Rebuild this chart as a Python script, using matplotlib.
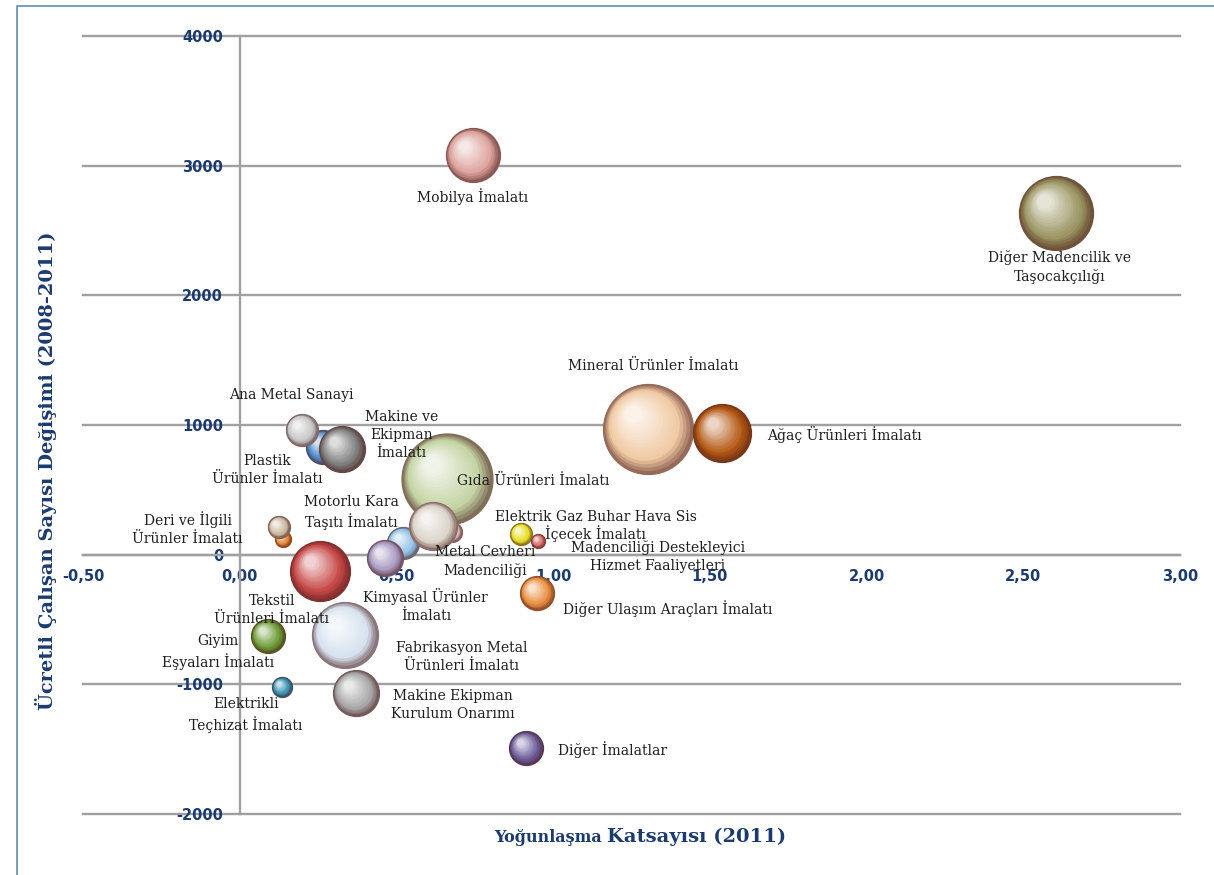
import numpy as np
import matplotlib
matplotlib.use('Agg')
import matplotlib.pyplot as plt
from matplotlib.lines import Line2D
from matplotlib.transforms import offset_copy
from matplotlib.colors import to_rgb

# sektorler (cizim sirasi)
sektorler = [
    'Gıda Ürünleri İmalatı', 'Mineral Ürünler İmalatı', 'Ağaç Ürünleri İmalatı',
    'Mobilya İmalatı', 'Diğer Madencilik ve\nTaşocakçılığı', 'Plastik\nÜrünler İmalatı',
    'Makine ve\nEkipman\nİmalatı', 'Ana Metal Sanayi', '', 'Deri ve İlgili\nÜrünler İmalatı',
    'Metal Cevheri\nMadenciliği', '', 'Motorlu Kara\nTaşıtı İmalatı', 'Kimyasal Ürünler\nİmalatı',
    'Tekstil\nÜrünleri İmalatı', 'Elektrik Gaz Buhar Hava Sis', 'İçecek İmalatı',
    'Madenciliği Destekleyici\nHizmet Faaliyetleri', 'Diğer Ulaşım Araçları İmalatı',
    'Giyim\nEşyaları İmalatı', 'Fabrikasyon Metal\nÜrünleri İmalatı', 'Elektrikli\nTeçhizat İmalatı',
    'Makine Ekipman\nKurulum Onarımı', 'Diğer İmalatlar',
]
yogunlasma = [0.660, 1.302, 1.538, 0.743, 2.604, 0.265, 0.325, 0.198, 0.137, 0.124,
              0.676, 0.520, 0.618, 0.463, 0.255, 0.897, 0.951, 1.334, 0.948,
              0.089, 0.335, 0.134, 0.370, 0.913]
degisim = [586, 971, 941, 3084, 2637, 833, 817, 964, 123, 216,
           177, 93, 224, -23, -123, 162, 108, -15, -293,
           -625, -617, -1018, -1064, -1488]
buyukluk = [2070, 2025, 841, 729, 1369, 289, 529, 256, 64, 121,
            100, 256, 576, 324, 900, 121, 49, 0, 289,
            289, 1089, 100, 529, 289]

x_ticks = [-0.5, 0.0, 0.5, 1.0, 1.5, 2.0, 2.5, 3.0]
x_ticklabels = ['-0,50', '0,00', '0,50', '1,00', '1,50', '2,00', '2,50', '3,00']
y_ticks = [-2000, -1000, 0, 1000, 2000, 3000, 4000]
y_ticklabels = ['-2000', '-1000', '0', '1000', '2000', '3000', '4000']

# stil
renkler = ['#C3D3A2', '#F0C9A2', '#B45812', '#DCA29C', '#99935F', '#4C8ACB',
           '#7C7C7C', '#C6C6C6', '#E07A22', '#C9B89E', '#D4B2B2', '#8FC0E6',
           '#DAD3C8', '#A898C0', '#C64646', '#E6DE1E', '#D05E5E', '#FFFFFF',
           '#E88E3E', '#6B9A32', '#D6E2EE', '#2F8EAE', '#A6A6A6', '#6A5A96']
# etiket ofsetleri (piksel) ve hizalama
etiket_ofset = [(10, -2), (5, 63), (45, -2), (0, -42), (4, -54), (-56, -23),
                (60, 14), (-10, 35), (0, 0), (-91, -2), (34, -30), (0, 0),
                (-82, 13), (41, -48), (-48, -39), (75, 17), (7, 7), (0, 0),
                (26, -16), (-50, -16), (117, -22), (-36, -28), (97, -12), (32, -2)]
etiket_ha = ['left', 'center', 'left', 'center', 'center', 'center', 'center', 'center',
             'center', 'center', 'center', 'center', 'center', 'center', 'center', 'center',
             'left', 'center', 'left', 'center', 'center', 'center', 'center', 'left']

lacivert = '#1B3A6E'
gri = '#A0A0A0'

fig = plt.figure(figsize=(12.14, 8.75), dpi=100)
ax = fig.add_axes([0.0684, 0.0697, 0.9036, 0.8892])
ax.set_xlim(-0.5, 3.0)
ax.set_ylim(-2000, 4000)

for s in ['top', 'right']:
    ax.spines[s].set_visible(False)
ax.spines['left'].set_position(('data', 0))
ax.spines['bottom'].set_position(('data', 0))
for s in ['left', 'bottom']:
    ax.spines[s].set_color(gri)
    ax.spines[s].set_linewidth(1.7)
ax.set_axisbelow(True)
ax.yaxis.grid(True, color=gri, lw=1.7)

ax.set_xticks(x_ticks)
ax.set_xticklabels(x_ticklabels)
ax.set_yticks(y_ticks)
ax.set_yticklabels(y_ticklabels)
ax.tick_params(axis='both', length=0, labelcolor=lacivert, labelsize=10.5)
ax.tick_params(axis='x', pad=10)
ax.tick_params(axis='y', pad=12)
for t in ax.get_xticklabels() + ax.get_yticklabels():
    t.set_fontweight('bold')
for g in ax.get_ygridlines():
    g.set_clip_on(False)


def karistir(c1, c2, t):
    a = np.array(to_rgb(c1))
    b = np.array(to_rgb(c2))
    return tuple(a + (b - a) * t)


def kure(ax, x, y, r_pt, renk, z):
    # 3B gorunumlu balon: kenardan merkeze dogru acilan katmanlar
    koyu = karistir(renk, '#4a1c1c', 0.55)
    n = 16
    for i in range(n):
        t = i / (n - 1)
        if t < 0.25:
            c = karistir(koyu, renk, t / 0.25)
        else:
            c = karistir(renk, '#ffffff', (t - 0.25) / 0.75 * 0.75)
        rr = r_pt * (1 - 0.8 * t)
        d = r_pt * 0.32 * t
        tr = offset_copy(ax.transData, fig=fig, x=-d, y=d, units='points')
        ax.plot([x], [y], 'o', ms=2 * rr, mfc=c, mec='none', transform=tr,
                zorder=z + i * 0.001, clip_on=False)
    ax.plot([x], [y], 'o', ms=2 * r_pt, mfc='none', mec=koyu, mew=0.9,
            zorder=z + 0.02, clip_on=False)


for i, (x, y, b) in enumerate(zip(yogunlasma, degisim, buyukluk)):
    if b > 0:
        r_pt = np.sqrt(b) * 0.72
        kure(ax, x, y, r_pt, renkler[i], 2 + i * 0.1)

for i, ad in enumerate(sektorler):
    if ad == '':
        continue
    dx, dy = etiket_ofset[i]
    ax.annotate(ad, (yogunlasma[i], degisim[i]), xytext=(dx, dy),
                textcoords='offset pixels', ha=etiket_ha[i], va='center',
                multialignment='center', fontsize=10, family='DejaVu Serif',
                color='#1e1e1e', linespacing=1.35, zorder=100)

fig.text(0.038, 0.462, 'Ücretli Çalışan Sayısı Değişimi (2008-2011)', rotation=90,
         ha='center', va='center', fontsize=14, fontweight='bold',
         family='DejaVu Serif', color=lacivert)
fig.text(0.4955, 0.038, 'Yoğunlaşma', ha='right', va='baseline', fontsize=11.5,
         fontweight='bold', family='DejaVu Serif', color=lacivert)
fig.text(0.5, 0.038, 'Katsayısı (2011)', ha='left', va='baseline', fontsize=14,
         fontweight='bold', family='DejaVu Serif', color=lacivert)

# cerceve (sol ve ust)
fig.add_artist(Line2D([17 / 1214, 17 / 1214, 1.0], [0.0, 1 - 6 / 875, 1 - 6 / 875],
                      transform=fig.transFigure, color='#5E8DB3', lw=1.2))

fig.savefig('out.png', dpi=100)
